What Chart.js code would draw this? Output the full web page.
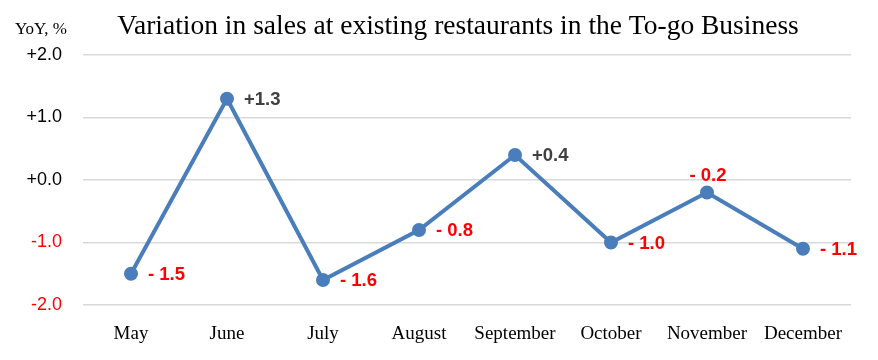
<!DOCTYPE html>
<html>
<head>
<meta charset="utf-8">
<script src="https://cdn.jsdelivr.net/npm/chart.js@4"></script>
<style>
  html, body { margin: 0; padding: 0; background: #fff; }
  #wrap { width: 878px; height: 360px; position: relative; }
</style>
</head>
<body>
<div id="wrap"><canvas id="chart"></canvas></div>
<script>
// chart data
var months = ["May", "June", "July", "August", "September", "October", "November", "December"];
var yoy = [-1.5, 1.3, -1.6, -0.8, 0.4, -1.0, -0.2, -1.1];
var yTicks = [2, 1, 0, -1, -2];
var titleText = "Variation in sales at existing restaurants in the To-go Business";
var unitText = "YoY, %";

function fmt(v) {
    if (v < 0) return "- " + Math.abs(v).toFixed(1);
    return "+" + v.toFixed(1);
}

// title, unit label and point labels
var extras = {
    id: "extras",
    afterDraw: function(chart) {
        var ctx = chart.ctx;
        ctx.save();
        ctx.fillStyle = "#000";
        ctx.textBaseline = "middle";
        ctx.textAlign = "center";
        ctx.font = "27.5px 'Liberation Serif', 'Times New Roman', serif";
        ctx.fillText(titleText, 458, 27);
        ctx.textAlign = "left";
        ctx.font = "17px 'Liberation Serif', 'Times New Roman', serif";
        ctx.fillText(unitText, 15, 30);

        var meta = chart.getDatasetMeta(0);
        ctx.font = "bold 18.5px 'Liberation Sans', Arial, sans-serif";
        meta.data.forEach(function(pt, i) {
            var v = yoy[i];
            ctx.fillStyle = v < 0 ? "#ff0000" : "#404040";
            if (months[i] === "November") {
                ctx.textAlign = "center";
                ctx.fillText(fmt(v), pt.x + 1, pt.y - 17);
            } else {
                ctx.textAlign = "left";
                ctx.fillText(fmt(v), pt.x + 17, pt.y + 1);
            }
        });
        ctx.restore();
    }
};

new Chart(document.getElementById("chart"), {
    type: "line",
    data: {
        labels: months,
        datasets: [{
            data: yoy,
            borderColor: "#4a7ebb",
            backgroundColor: "#4a7ebb",
            borderWidth: 4,
            pointRadius: 5,
            pointHoverRadius: 5,
            fill: false,
            tension: 0
        }]
    },
    options: {
        responsive: true,
        maintainAspectRatio: false,
        animation: false,
        layout: { padding: { top: 55, right: 27, left: 0, bottom: 0 } },
        plugins: {
            legend: { display: false },
            title: { display: false },
            tooltip: { enabled: false }
        },
        scales: {
            x: {
                offset: true,
                grid: { display: false },
                border: { display: false },
                ticks: {
                    color: "#000",
                    padding: 10,
                    font: { family: "'Liberation Serif', 'Times New Roman', serif", size: 19 }
                },
                afterFit: function(s) { s.height = 55; }
            },
            y: {
                min: -2,
                max: 2,
                grid: { color: "#d9d9d9", lineWidth: 1.5, drawTicks: false },
                border: { display: false },
                afterBuildTicks: function(s) {
                    s.ticks = yTicks.map(function(v) { return { value: v }; });
                },
                ticks: {
                    padding: 21,
                    color: function(c) { return c.tick.value < 0 ? "#ff0000" : "#000"; },
                    font: { family: "'Liberation Sans', Arial, sans-serif", size: 18 },
                    callback: function(v) { return v < 0 ? "-" + Math.abs(v).toFixed(1) : "+" + v.toFixed(1); }
                },
                afterFit: function(s) { s.width = 83; }
            }
        }
    },
    plugins: [extras]
});
</script>
</body>
</html>
